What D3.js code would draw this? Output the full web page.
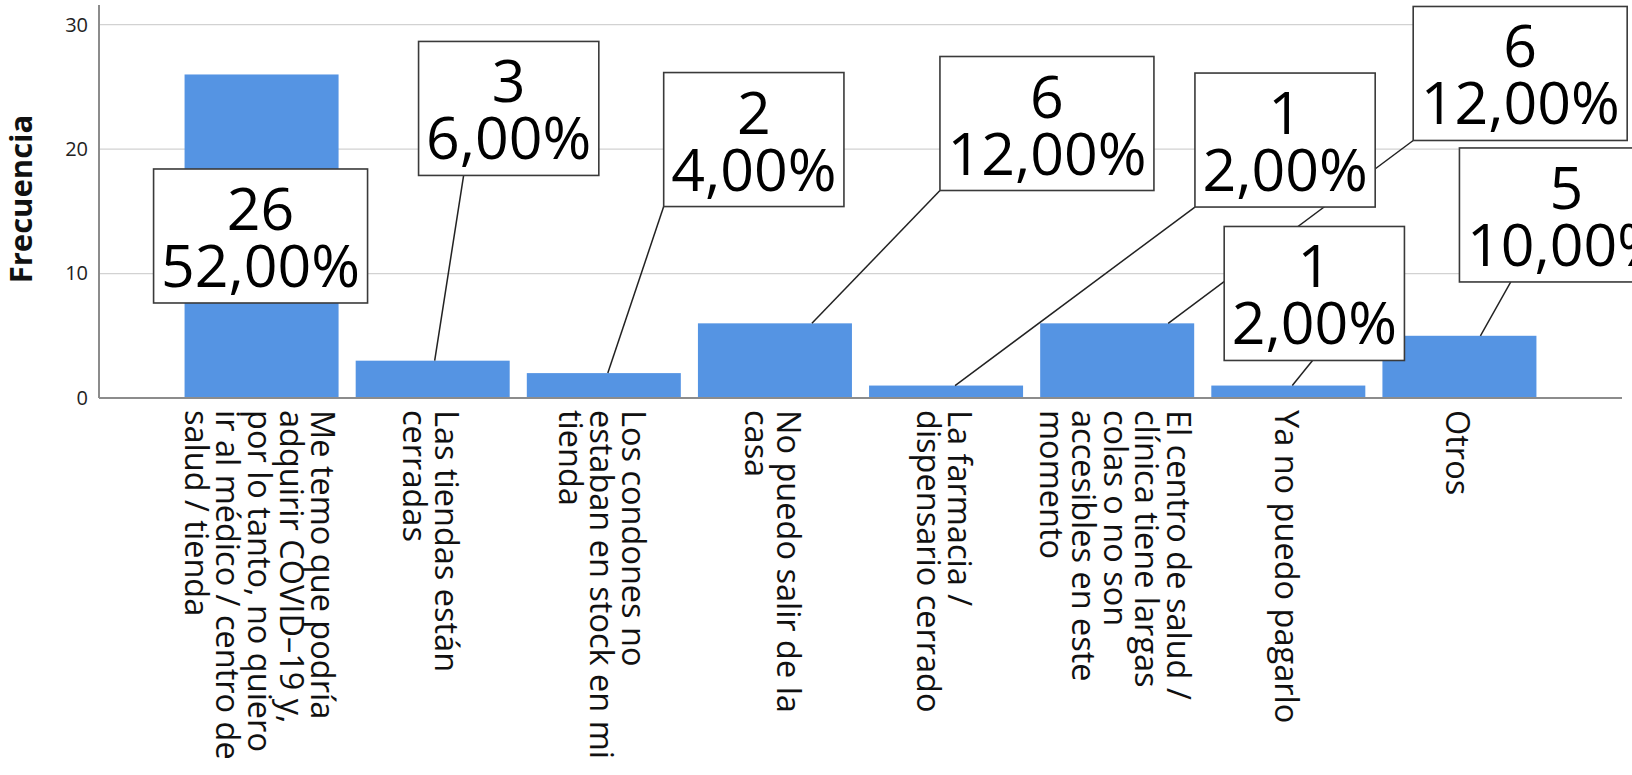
<!DOCTYPE html>
<html><head><meta charset="utf-8">
<script src="https://cdn.jsdelivr.net/npm/d3@7"></script>
<style>html,body{margin:0;padding:0;background:#fff;overflow:hidden}svg{display:block}</style>
</head><body><svg id="chart" width="1632" height="775"></svg>
<script>
// ---- data ----
const categories = [
  ["Me temo que podría", "adquirir COVID–19 y,", "por lo tanto, no quiero", "ir al médico / centro de", "salud / tienda"],
  ["Las tiendas están", "cerradas"],
  ["Los condones no", "estaban en stock en mi", "tienda"],
  ["No puedo salir de la", "casa"],
  ["La farmacia /", "dispensario cerrado"],
  ["El centro de salud /", "clínica tiene largas", "colas o no son", "accesibles en este", "momento"],
  ["Ya no puedo pagarlo"],
  ["Otros"]
];
const counts = [26, 3, 2, 6, 1, 6, 1, 5];
const percents = ["52,00%", "6,00%", "4,00%", "12,00%", "2,00%", "12,00%", "2,00%", "10,00%"];
const yTicks = [0, 10, 20, 30];
const yTitle = "Frecuencia";

// ---- callout layout (not data) ----
const boxDx = [-1, 76, 150, 272, 339, 403, 26, 107];       // px offset of box centre from bar centre
const boxCy = [13.02, 23.27, 20.77, 22.06, 20.73, 26.08, 8.40, 14.71]; // box centre, in y units
const leadBarDx = [null, 2, 4, 37, 9, 51, 4, 21];         // leader anchor on bar top (px from centre)
const leadBoxFx = [null, 0.25, 0, 0, 0, 0, 0.49, 0.24];   // leader anchor on box bottom (fraction of width)

const FONT = "'Open Sans', 'DejaVu Sans', sans-serif";
const svg = d3.select("#chart");

const x = d3.scaleBand().domain(d3.range(categories.length))
  .range([99, 1622]).paddingInner(0.1).paddingOuter(0.5);
const y = d3.scaleLinear().domain([0, 30]).range([398, 24.7]);

// gridlines
svg.append("g").selectAll("line").data(yTicks.filter(t => t > 0)).join("line")
  .attr("x1", 99).attr("x2", 1622)
  .attr("y1", d => y(d)).attr("y2", d => y(d))
  .attr("stroke", "#d2d2d2").attr("stroke-width", 1.3);

// bars
svg.append("g").selectAll("rect").data(counts).join("rect")
  .attr("x", (d, i) => x(i)).attr("width", x.bandwidth())
  .attr("y", d => y(d)).attr("height", d => y(0) - y(d))
  .attr("fill", "#5594E3");

// y axis
const yAxis = svg.append("g").attr("transform", "translate(99,0)")
  .call(d3.axisLeft(y).tickValues(yTicks).tickSize(0).tickPadding(11));
yAxis.select(".domain").remove();
yAxis.selectAll("text").attr("font-family", FONT).attr("font-size", 20).attr("fill", "#222");
svg.append("line").attr("x1", 99).attr("x2", 99).attr("y1", 5).attr("y2", y(0))
  .attr("stroke", "#8c8c8c").attr("stroke-width", 2);

// x axis
const xAxis = svg.append("g").attr("transform", `translate(0,${y(0)})`)
  .call(d3.axisBottom(x).tickSize(0).tickFormat(""));
xAxis.select(".domain").remove();
svg.append("line").attr("x1", 99).attr("x2", 1622).attr("y1", y(0)).attr("y2", y(0))
  .attr("stroke", "#8c8c8c").attr("stroke-width", 2);

const FS = 32.5, LH = 31.7;
xAxis.selectAll(".tick").each(function(d) {
  const lines = categories[d];
  const n = lines.length;
  const t = d3.select(this).append("text")
    .attr("transform", "translate(-2,12) rotate(90)")
    .attr("font-family", FONT).attr("font-size", FS).attr("fill", "#111")
    .attr("text-anchor", "start");
  lines.forEach((ln, i) => {
    t.append("tspan").attr("x", 0)
      .attr("y", (i - (n - 1) / 2) * LH + 0.357 * FS)
      .text(ln);
  });
});

// y title
svg.append("text")
  .attr("transform", "translate(32,199) rotate(-90)")
  .attr("text-anchor", "middle")
  .attr("font-family", FONT).attr("font-weight", "bold").attr("font-size", 31)
  .attr("fill", "#111").text(yTitle);

// callout boxes
const BFS = 59, BH = 134;
const measure = svg.append("text").attr("font-family", FONT).attr("font-size", BFS);
const boxes = counts.map((c, i) => {
  measure.text(String(c)); const w1 = measure.node().getComputedTextLength();
  measure.text(percents[i]); const w2 = measure.node().getComputedTextLength();
  const w = Math.max(w1, w2) + 15;
  const cx = x(i) + x.bandwidth() / 2 + boxDx[i];
  const cy = y(boxCy[i]);
  return {i, w, cx, left: cx - w / 2, top: cy - BH / 2};
});
measure.remove();

// leader lines
svg.append("g").selectAll("line").data(boxes.filter(b => leadBarDx[b.i] !== null)).join("line")
  .attr("x1", b => x(b.i) + x.bandwidth() / 2 + leadBarDx[b.i])
  .attr("y1", b => y(counts[b.i]))
  .attr("x2", b => b.left + leadBoxFx[b.i] * b.w)
  .attr("y2", b => b.top + BH)
  .attr("stroke", "#222").attr("stroke-width", 1.5);

const bg = svg.append("g").selectAll("g").data(boxes).join("g");
bg.append("rect")
  .attr("x", b => b.left).attr("y", b => b.top)
  .attr("width", b => b.w).attr("height", BH)
  .attr("fill", "#fff").attr("stroke", "#3a3a3a").attr("stroke-width", 1.6);
bg.append("text")
  .attr("x", b => b.cx).attr("y", b => b.top + 61)
  .attr("text-anchor", "middle").attr("font-family", FONT).attr("font-size", BFS).attr("fill", "#000")
  .text(b => counts[b.i]);
bg.append("text")
  .attr("x", b => b.cx).attr("y", b => b.top + 118)
  .attr("text-anchor", "middle").attr("font-family", FONT).attr("font-size", BFS).attr("fill", "#000")
  .text(b => percents[b.i]);
</script>
</body></html>
